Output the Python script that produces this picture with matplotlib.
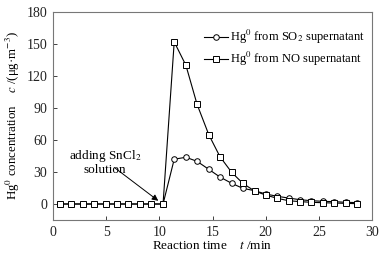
import matplotlib.pyplot as plt

plt.rcParams['font.family'] = ['Liberation Serif', 'DejaVu Serif']
plt.rcParams['mathtext.fontset'] = 'stix'

# reaction time (min)
t = [0.65, 1.7, 2.8, 3.9, 4.95, 6.0, 7.1, 8.2, 9.25, 10.35, 11.4, 12.5, 13.55,
     14.65, 15.7, 16.8, 17.85, 18.95, 20.0, 21.1, 22.15, 23.25, 24.3, 25.4,
     26.45, 27.55, 28.6]
# Hg0 concentration (ug/m3)
hg_so2 = [0, 0, 0, 0, 0, 0, 0, 0, 0, 0, 42, 43.8, 40, 32.5, 25.3, 19.4, 14.7,
          12.5, 9.4, 7.2, 5.6, 4.0, 3.1, 2.5, 2.2, 1.6, 1.3]
hg_no = [0, 0, 0, 0, 0, 0, 0, 0, 0, 0, 152, 130, 93.4, 65, 44.4, 29.7, 19.4,
         12.2, 8.4, 5.3, 3.1, 2.2, 1.6, 1.2, 0.9, 0.6, 0.3]

fig = plt.figure(figsize=(3.92, 2.57), dpi=100)
ax = fig.add_axes([53/392, 1 - 220/257, (372 - 53)/392, (220 - 12)/257])

ax.plot(t, hg_so2, '-o', color='black', lw=0.8, ms=4, mfc='white', mew=0.7,
        label='Hg$^0$ from SO$_2$ supernatant')
ax.plot(t, hg_no, '-s', color='black', lw=0.8, ms=4, mfc='white', mew=0.7,
        label='Hg$^0$ from NO supernatant')

ax.text(4.9, 39, 'adding SnCl$_2$\nsolution', ha='center', va='center',
        fontsize=9.5, linespacing=1.0)
ax.annotate('', xy=(9.9, 3), xytext=(5.8, 34),
            arrowprops=dict(arrowstyle='-|>', color='black', lw=0.7,
                            shrinkA=0, shrinkB=0, mutation_scale=9))

ax.set_xlim(0, 30)
ax.set_ylim(-15, 180)
ax.set_xticks(range(0, 31, 5))
ax.set_yticks(range(0, 181, 30))
ax.tick_params(direction='in', labelsize=10, length=3, width=0.6, colors='#222222', pad=4)
for s in ax.spines.values():
    s.set_color('#777777')
    s.set_linewidth(0.8)

ax.set_xlabel('Reaction time    $t$ /min', fontsize=9.5, labelpad=1)
ax.set_ylabel('Hg$^0$ concentration    $c$ /(μg·m$^{-3}$)', fontsize=9.3, labelpad=3)

ax.legend(loc='upper right', bbox_to_anchor=(0.994, 0.947), frameon=False,
          fontsize=9, handlelength=1.9, handletextpad=0.2, borderaxespad=0,
          labelspacing=0.3)

fig.savefig('out.png', dpi=100)
